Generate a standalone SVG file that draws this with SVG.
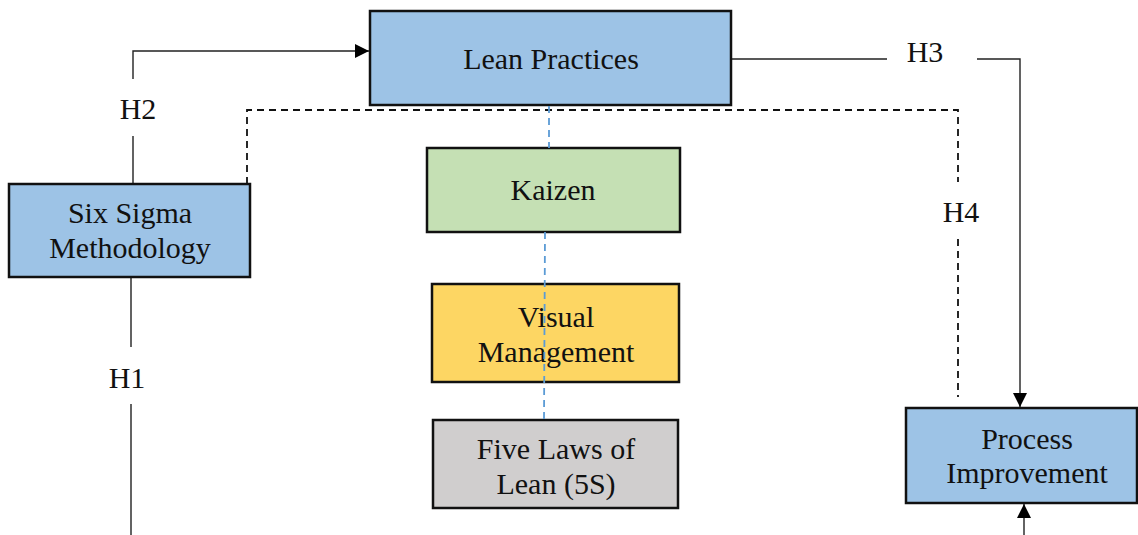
<svg xmlns="http://www.w3.org/2000/svg" width="1138" height="535" viewBox="0 0 1138 535">
<style>
.box{stroke:#111;stroke-width:2.5}
.blue{fill:#9DC3E6}.green{fill:#C5E0B4}.yellow{fill:#FDD663}.gray{fill:#D0CECE}
text{font-family:"Liberation Serif",serif;font-size:30px;fill:#111;text-anchor:middle}
.ln{fill:none;stroke:#222;stroke-width:1.4}
.dash{fill:none;stroke:#111;stroke-width:1.8;stroke-dasharray:7,5}
.bdash{fill:none;stroke:#5B9BD5;stroke-width:1.8;stroke-dasharray:7,5}
</style>
<defs>
<marker id="ah" viewBox="0 0 10 10" refX="10" refY="5" markerWidth="15" markerHeight="14" markerUnits="userSpaceOnUse" orient="auto">
<path d="M0,0 L10,5 L0,10 z" fill="#000"/>
</marker>
</defs>
<g id="connectors">
<path class="ln" d="M133,184 V136 M133,79 V51 H369" marker-end="url(#ah)"/>
<path class="ln" d="M731,59 H887 M977,59 H1020 V407" marker-end="url(#ah)"/>
<path class="ln" d="M131,277 V347 M131,404 V535"/>
<path class="ln" d="M1024,535 V504" marker-end="url(#ah)"/>
<path class="dash" d="M247,184 V110 H958 V182 M958,239 V397"/>
</g>
<g id="lean"><rect class="box blue" x="370" y="11" width="361" height="94"/><text x="551" y="69">Lean Practices</text></g>
<g id="kaizen"><rect class="box green" x="427" y="148" width="253" height="84"/><text x="553" y="200">Kaizen</text></g>
<g id="sixsigma"><rect class="box blue" x="9" y="184" width="241" height="93"/><text x="130" y="223">Six Sigma</text><text x="130" y="258">Methodology</text></g>
<g id="visual"><rect class="box yellow" x="432" y="284" width="247" height="98"/><text x="556" y="327">Visual</text><text x="556" y="362">Management</text></g>
<g id="fivelaws"><rect class="box gray" x="433" y="420" width="245" height="88"/><text x="556" y="459">Five Laws of</text><text x="556" y="494">Lean (5S)</text></g>
<g id="process"><rect class="box blue" x="906" y="408" width="231" height="95"/><text x="1027" y="449">Process</text><text x="1027" y="483">Improvement</text></g>
<g id="blue-links">
<path class="bdash" d="M549,106 V148 M545,232 L544,420"/>
</g>
<g id="labels">
<text x="138" y="119">H2</text>
<text x="925" y="62">H3</text>
<text x="961" y="222">H4</text>
<text x="127" y="388">H1</text>
</g>
</svg>
